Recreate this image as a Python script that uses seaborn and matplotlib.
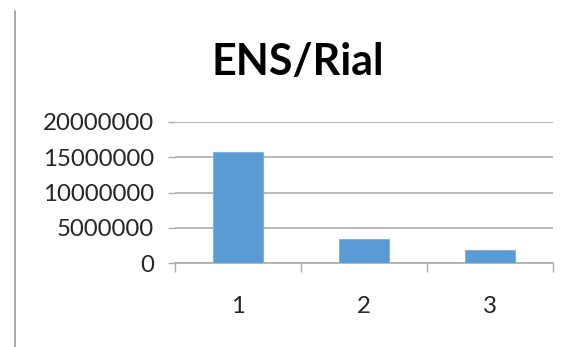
import matplotlib
matplotlib.use("Agg")
import matplotlib.pyplot as plt
from matplotlib.lines import Line2D
import seaborn as sns
import pandas as pd

# Data
categories = ["1", "2", "3"]
values = [15750000, 3350000, 1900000]
y_ticks = [0, 5000000, 10000000, 15000000, 20000000]
title = "ENS/Rial"

sns.set_style("white")
plt.rcParams["font.family"] = ["Lato", "DejaVu Sans"]

df = pd.DataFrame({"cat": categories, "val": values})

fig = plt.figure(figsize=(5.79, 3.47), dpi=100)
ax = fig.add_axes([175 / 579, 84 / 347, 378 / 579, 141 / 347])

sns.barplot(data=df, x="cat", y="val", ax=ax, color="#5B9BD5",
            saturation=1, width=0.4, edgecolor="#7FB2E0", linewidth=0.8,
            zorder=3)

grid_c = "#ADADAD"
ax.set_ylim(0, 20000000)
ax.set_yticks(y_ticks)
ax.set_yticklabels([str(v) for v in y_ticks])
ax.yaxis.grid(True, color=grid_c, linewidth=1.2, zorder=0)
ax.set_axisbelow(True)

ax.set_xlim(-0.5, 2.5)
ax.set_xticks([-0.5, 0.5, 1.5, 2.5])
ax.set_xticklabels([])
ax.set_xticks(range(len(categories)), minor=True)
ax.set_xticklabels(categories, minor=True)

for s in ["top", "right", "left"]:
    ax.spines[s].set_visible(False)
ax.spines["bottom"].set_color(grid_c)
ax.spines["bottom"].set_linewidth(1.2)

ax.tick_params(axis="y", which="major", length=5, width=1.0, color=grid_c,
               pad=10, labelsize=17.3, labelcolor="#262626", left=True)
ax.tick_params(axis="x", which="major", length=6.5, width=1.0, color=grid_c,
               bottom=True, direction="out")
ax.tick_params(axis="x", which="minor", length=0, pad=24, labelsize=17.3,
               labelcolor="#262626")
ax.set_xlabel("")
ax.set_ylabel("")

fig.text(298 / 579, 1 - 75 / 347, title, ha="center", va="baseline",
         fontsize=31, fontweight="bold", color="black")

fig.add_artist(Line2D([14.5 / 579, 14.5 / 579], [0, 1 - 11 / 347],
                      transform=fig.transFigure, color="#A0A0A0", linewidth=1.3))

fig.savefig("out.png", dpi=100)
